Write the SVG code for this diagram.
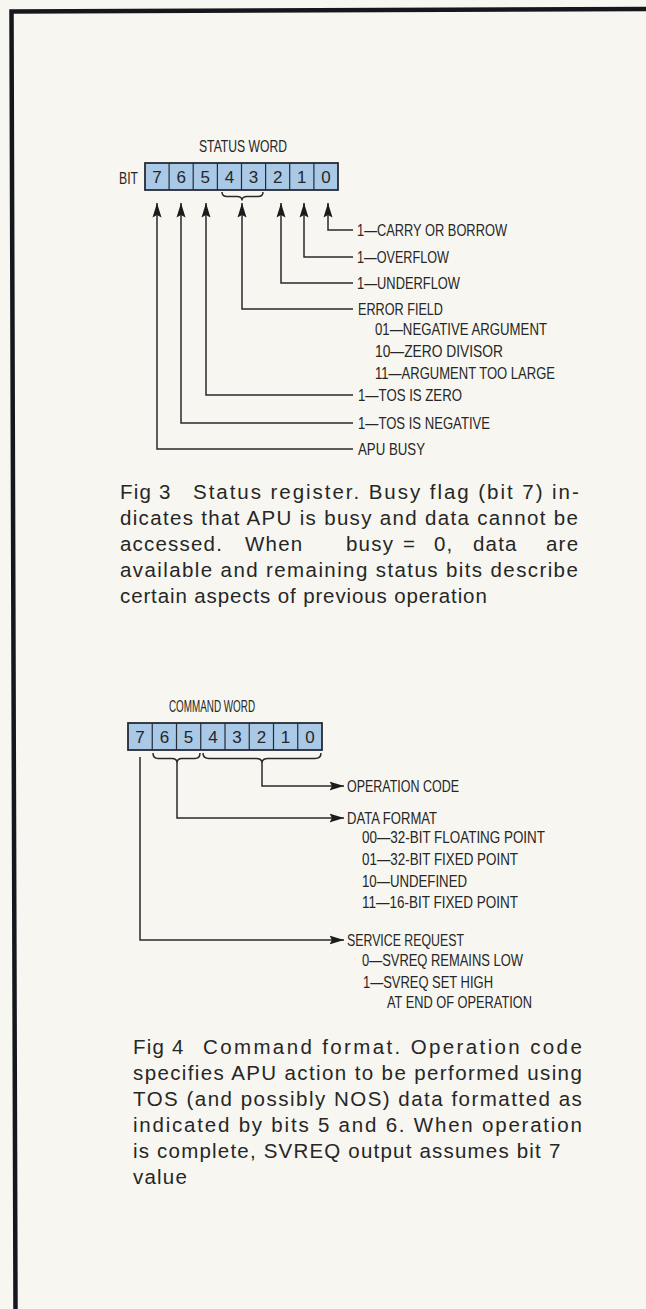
<svg xmlns="http://www.w3.org/2000/svg" width="646" height="1309" viewBox="0 0 646 1309">
<style>
.lbl{font-family:"Liberation Sans Narrow","Liberation Sans",Arial,sans-serif;font-size:17px;fill:#262626}
.dig{font-family:"Liberation Sans Narrow","Liberation Sans",Arial,sans-serif;font-size:17px;fill:#262626;text-anchor:middle}
.cap{font-family:"Liberation Sans",Arial,sans-serif;font-size:20.5px;letter-spacing:1.2px;fill:#262626}
.ln{stroke:#2a2a2a;stroke-width:1.5;fill:none}
.box{fill:#a9c9e6;stroke:#262b36;stroke-width:1.8}
.div{stroke:#262b36;stroke-width:1.2}
.arr{marker-end:url(#ah)}
</style>
<defs>
<marker id="ah" markerUnits="userSpaceOnUse" markerWidth="15" markerHeight="10" refX="14.5" refY="5" orient="auto">
<path d="M0,0.5 L14.5,5 L0,9.5 L2.5,5 Z" fill="#1c1c1c"/>
</marker>
</defs>
<rect width="646" height="1309" fill="#f7f6f1"/>
<path d="M15.5,1309 L11.5,11.5 L646,9" fill="none" stroke="#15171d" stroke-width="4.5"/>

<g id="status-word">
<text class="lbl" x="199" y="152" textLength="88" lengthAdjust="spacingAndGlyphs">STATUS WORD</text>
<text class="lbl" x="119" y="184" textLength="19" lengthAdjust="spacingAndGlyphs">BIT</text>
<rect class="box" x="145" y="163" width="193" height="27"/>
<path class="div" d="M169.1,163V190M193.2,163V190M217.4,163V190M241.5,163V190M265.6,163V190M289.7,163V190M313.9,163V190"/>
<text class="dig" x="157.1" y="183">7</text>
<text class="dig" x="181.2" y="183">6</text>
<text class="dig" x="205.3" y="183">5</text>
<text class="dig" x="229.4" y="183">4</text>
<text class="dig" x="253.6" y="183">3</text>
<text class="dig" x="277.7" y="183">2</text>
<text class="dig" x="301.8" y="183">1</text>
<text class="dig" x="325.9" y="183">0</text>
<path class="ln" d="M222,192 Q222,196.5 227,196.5 L237,196.5 Q242,196.5 242,200.5 Q242,196.5 247,196.5 L258,196.5 Q263,196.5 263,192"/>
</g>

<g id="status-labels">
<text class="lbl" x="357" y="236" textLength="150" lengthAdjust="spacingAndGlyphs">1—CARRY OR BORROW</text>
<text class="lbl" x="357" y="263" textLength="92" lengthAdjust="spacingAndGlyphs">1—OVERFLOW</text>
<text class="lbl" x="357" y="289" textLength="103" lengthAdjust="spacingAndGlyphs">1—UNDERFLOW</text>
<text class="lbl" x="358" y="315" textLength="85" lengthAdjust="spacingAndGlyphs">ERROR FIELD</text>
<text class="lbl" x="375" y="335" textLength="172" lengthAdjust="spacingAndGlyphs">01—NEGATIVE ARGUMENT</text>
<text class="lbl" x="375" y="357" textLength="128" lengthAdjust="spacingAndGlyphs">10—ZERO DIVISOR</text>
<text class="lbl" x="375" y="379" textLength="180" lengthAdjust="spacingAndGlyphs">11—ARGUMENT TOO LARGE</text>
<text class="lbl" x="358" y="401" textLength="104" lengthAdjust="spacingAndGlyphs">1—TOS IS ZERO</text>
<text class="lbl" x="358" y="429" textLength="132" lengthAdjust="spacingAndGlyphs">1—TOS IS NEGATIVE</text>
<text class="lbl" x="358" y="455" textLength="67" lengthAdjust="spacingAndGlyphs">APU BUSY</text>
</g>

<g id="command-word">
<text class="lbl" x="169" y="712" textLength="86" lengthAdjust="spacingAndGlyphs">COMMAND WORD</text>
<rect class="box" x="128" y="723" width="194" height="27"/>
<path class="div" d="M152.25,723V750M176.5,723V750M200.75,723V750M225,723V750M249.25,723V750M273.5,723V750M297.75,723V750"/>
<text class="dig" x="140.1" y="743">7</text>
<text class="dig" x="164.4" y="743">6</text>
<text class="dig" x="188.6" y="743">5</text>
<text class="dig" x="212.9" y="743">4</text>
<text class="dig" x="237.1" y="743">3</text>
<text class="dig" x="261.4" y="743">2</text>
<text class="dig" x="285.6" y="743">1</text>
<text class="dig" x="309.9" y="743">0</text>
<path class="ln" d="M153,753 Q153,758.5 158,758.5 L172,758.5 Q177,758.5 177,763 Q177,758.5 182,758.5 L195,758.5 Q200,758.5 200,753"/>
<path class="ln" d="M203,753 Q203,758.5 209,758.5 L256,758.5 Q262,758.5 262,763 Q262,758.5 268,758.5 L315,758.5 Q321,758.5 321,753"/>
</g>

<g id="command-labels">
<text class="lbl" x="347" y="792" textLength="112" lengthAdjust="spacingAndGlyphs">OPERATION CODE</text>
<text class="lbl" x="347" y="824" textLength="90" lengthAdjust="spacingAndGlyphs">DATA FORMAT</text>
<text class="lbl" x="362" y="843" textLength="183" lengthAdjust="spacingAndGlyphs">00—32-BIT FLOATING POINT</text>
<text class="lbl" x="362" y="865" textLength="156" lengthAdjust="spacingAndGlyphs">01—32-BIT FIXED POINT</text>
<text class="lbl" x="362" y="887" textLength="105" lengthAdjust="spacingAndGlyphs">10—UNDEFINED</text>
<text class="lbl" x="362" y="908" textLength="156" lengthAdjust="spacingAndGlyphs">11—16-BIT FIXED POINT</text>
<text class="lbl" x="347" y="946" textLength="117" lengthAdjust="spacingAndGlyphs">SERVICE REQUEST</text>
<text class="lbl" x="362" y="966" textLength="161" lengthAdjust="spacingAndGlyphs">0—SVREQ REMAINS LOW</text>
<text class="lbl" x="363" y="988" textLength="130" lengthAdjust="spacingAndGlyphs">1—SVREQ SET HIGH</text>
<text class="lbl" x="387" y="1008" textLength="145" lengthAdjust="spacingAndGlyphs">AT END OF OPERATION</text>
</g>

<g id="connectors">
<path class="ln arr" d="M353,230 H328 V203"/>
<path class="ln arr" d="M353,257 H304 V203"/>
<path class="ln arr" d="M353,283 H281 V203"/>
<path class="ln arr" d="M353,309 H242 V203"/>
<path class="ln arr" d="M353,395 H206 V203"/>
<path class="ln arr" d="M353,423 H181 V203"/>
<path class="ln arr" d="M353,449 H157 V203"/>
<path class="ln arr" d="M262,763 V786 H344"/>
<path class="ln arr" d="M177,763 V818 H344"/>
<path class="ln arr" d="M140,757 V940 H344"/>
</g>

<g id="caption-fig3">
<text class="cap" x="120" y="499">Fig 3</text>
<text class="cap" x="193" y="499" textLength="387" lengthAdjust="spacing">Status register. Busy flag (bit 7) in-</text>
<text class="cap" x="120" y="525" textLength="459" lengthAdjust="spacing">dicates that APU is busy and data cannot be</text>
<text class="cap" y="551"><tspan x="120">accessed.</tspan><tspan x="245">When</tspan><tspan x="346">busy</tspan><tspan x="403">=</tspan><tspan x="434">0,</tspan><tspan x="473">data</tspan><tspan x="546">are</tspan></text>
<text class="cap" x="120" y="577" textLength="459" lengthAdjust="spacing">available and remaining status bits describe</text>
<text class="cap" x="120" y="603" textLength="368" lengthAdjust="spacing">certain aspects of previous operation</text>
</g>

<g id="caption-fig4">
<text class="cap" x="133" y="1054">Fig 4</text>
<text class="cap" x="203" y="1054" textLength="380" lengthAdjust="spacing">Command format. Operation code</text>
<text class="cap" x="133" y="1080" textLength="450" lengthAdjust="spacing">specifies APU action to be performed using</text>
<text class="cap" x="133" y="1106" textLength="450" lengthAdjust="spacing">TOS (and possibly NOS) data formatted as</text>
<text class="cap" x="133" y="1132" textLength="450" lengthAdjust="spacing">indicated by bits 5 and 6. When operation</text>
<text class="cap" x="133" y="1158">is complete, SVREQ output assumes bit 7</text>
<text class="cap" x="133" y="1184">value</text>
</g>
</svg>
